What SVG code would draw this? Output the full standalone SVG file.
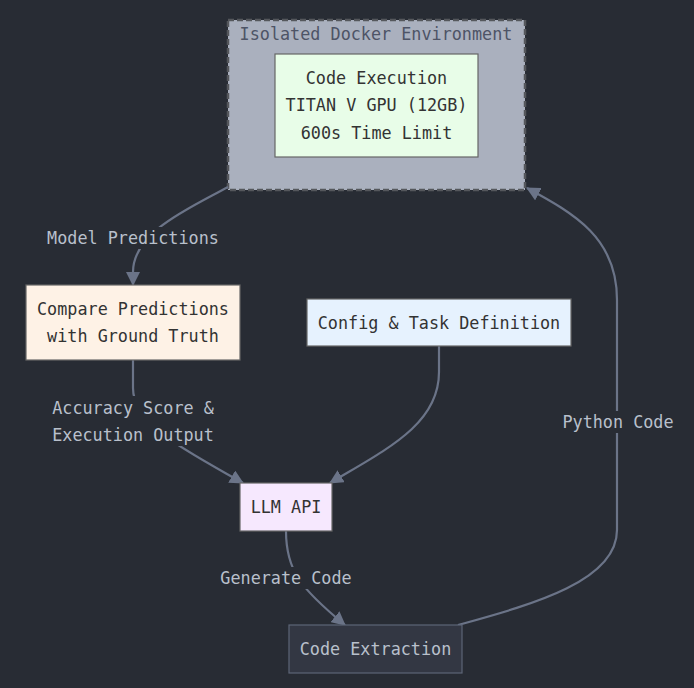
<svg xmlns="http://www.w3.org/2000/svg" width="694" height="688" viewBox="0 0 694 688">
<style>
text{font-family:"DejaVu Sans Mono","Liberation Mono",monospace;font-size:16.8px;text-anchor:middle;dominant-baseline:central}
.node rect{stroke:#666;stroke-width:1.2}
.nt{fill:#333}
.edge{fill:none;stroke:#6b7488;stroke-width:2.2}
.lbg{fill:#282c34}
.lt{fill:#b9c0cc}
</style>
<defs>
<marker id="ah" viewBox="0 0 14 14" refX="13" refY="7" markerWidth="14" markerHeight="14" markerUnits="userSpaceOnUse" orient="auto">
<path d="M0,0 L14,7 L0,14 Z" fill="#6b7488"/>
</marker>
</defs>
<rect width="694" height="688" fill="#282c34"/>
<g id="cluster">
<rect x="228" y="20" width="297" height="170" fill="#aab0be" stroke="#55575c" stroke-width="2.5" stroke-dasharray="6,3"/>
<text x="376" y="34" fill="#4e5466">Isolated Docker Environment</text>
</g>
<g id="edges">
<path class="edge" d="M228,187 C190,208 133,232 133,272 L133,285" marker-end="url(#ah)"/>
<path class="edge" d="M133,360 L133,388 C133,425 185,450 243,483" marker-end="url(#ah)"/>
<path class="edge" d="M439,346 L439,372 C439,425 385,450 330,483" marker-end="url(#ah)"/>
<path class="edge" d="M286,531 C286,570 300,588 345,625" marker-end="url(#ah)"/>
<path class="edge" d="M458,625 C530,605 617,582 617,530 L617,300 C617,238 575,214 527,188" marker-end="url(#ah)"/>
</g>
<g id="edge-labels">
<rect class="lbg" x="44" y="227" width="178" height="22"/>
<text class="lt" x="133" y="238">Model Predictions</text>
<rect class="lbg" x="50" y="396" width="167" height="50"/>
<text class="lt" x="133" y="408">Accuracy Score &amp;</text>
<text class="lt" x="133" y="435">Execution Output</text>
<rect class="lbg" x="218" y="567" width="136" height="22"/>
<text class="lt" x="286" y="578">Generate Code</text>
<rect class="lbg" x="560" y="411" width="116" height="22"/>
<text class="lt" x="618" y="422">Python Code</text>
</g>
<g id="code-execution" class="node">
<rect x="275" y="54" width="203" height="103" fill="#e8fde8"/>
<text class="nt" x="376.5" y="78">Code Execution</text>
<text class="nt" x="376.5" y="105">TITAN V GPU (12GB)</text>
<text class="nt" x="376.5" y="133">600s Time Limit</text>
</g>
<g id="compare" class="node">
<rect x="26" y="285" width="214" height="75" fill="#fef2e6"/>
<text class="nt" x="133" y="309">Compare Predictions</text>
<text class="nt" x="133" y="336">with Ground Truth</text>
</g>
<g id="config" class="node">
<rect x="307" y="299" width="264" height="47" fill="#e6f2fe"/>
<text class="nt" x="439" y="323">Config &amp; Task Definition</text>
</g>
<g id="llm-api" class="node">
<rect x="240" y="483" width="92" height="48" fill="#f6e8fe"/>
<text class="nt" x="286" y="507">LLM API</text>
</g>
<g id="code-extraction" class="node">
<rect x="289" y="625" width="173" height="48" fill="#333743" style="stroke:#5d6577"/>
<text x="375.5" y="649" fill="#b9c0cc">Code Extraction</text>
</g>
</svg>
